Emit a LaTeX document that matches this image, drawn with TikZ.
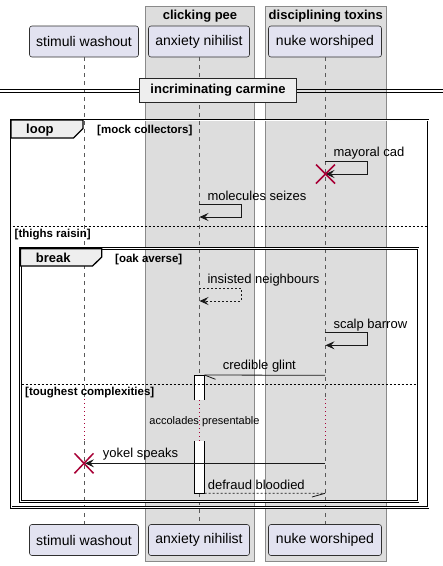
\documentclass[tikz,border=0pt]{standalone}
\usepackage{fontspec}
\setmainfont{Liberation Sans}
\usetikzlibrary{arrows.meta,calc}
\definecolor{grpfill}{HTML}{DDDDDD}
\definecolor{grpline}{HTML}{8A8A8A}
\definecolor{partfill}{HTML}{E2E2F0}
\definecolor{partline}{HTML}{303030}
\definecolor{tabfill}{HTML}{EEEEEE}
\definecolor{xred}{HTML}{A80036}
\newcommand\pxs[1]{\fontsize{#1}{#1}\selectfont}
\begin{document}
\begin{tikzpicture}[x=1pt,y=-1pt,
  part/.style={draw=partline,fill=partfill,line width=0.6pt,rounded corners=2.5pt,
    minimum height=31pt,inner sep=0pt,font=\pxs{14}},
  grp/.style={draw=grpline,fill=grpfill,line width=0.8pt},
  grptitle/.style={font=\bfseries\pxs{13},anchor=base},
  lifeline/.style={draw=black!65,line width=0.7pt,dash pattern=on 4pt off 4pt},
  delayline/.style={draw=xred,line width=0.8pt,dash pattern=on 1pt off 3pt},
  act/.style={draw=none,fill=white,minimum width=10pt,inner sep=0pt},
  actedge/.style={draw=black,line width=0.8pt},
  msg/.style={draw=black!90,line width=0.8pt,-{Stealth[length=9pt,width=8pt,inset=3.5pt]}},
  rmsg/.style={msg,dash pattern=on 2pt off 2pt},
  halfmsg/.style={draw=black!90,line width=0.8pt},
  lbl/.style={font=\pxs{13},anchor=base west,inner sep=0pt},
  frm/.style={draw=black,line width=1.05pt,double=white,double distance=0.7pt},
  tab/.style={draw=black,fill=tabfill,line width=1.3pt},
  tabtxt/.style={font=\bfseries\pxs{13},anchor=base west,inner sep=0pt},
  guard/.style={font=\bfseries\pxs{11.5},anchor=base west,inner sep=0pt},
  sep/.style={draw=black,line width=0.7pt,dash pattern=on 2pt off 2pt},
  killx/.style={draw=xred,line width=1.5pt}
]
\useasboundingbox (0,0) rectangle (443,566);
\fill[white] (0,0) rectangle (443,566);

% groups
\draw[grp] (145.3,6) rectangle (254.7,561);
\draw[grp] (265,6) rectangle (386.7,561);
\node[grptitle] (g1) at (200,19.5) {clicking pee};
\node[grptitle] (g2) at (325.8,19.5) {disciplining toxins};

% participants
\node[part,minimum width=109pt] (sw) at (84,41.5) {stimuli washout};
\node[part,minimum width=101pt] (an) at (199,41.5) {anxiety nihilist};
\node[part,minimum width=113pt] (nw) at (325,41.5) {nuke worshiped};
\node[part,minimum width=109pt] (sw2) at (84,540) {stimuli washout};
\node[part,minimum width=101pt] (an2) at (199,540) {anxiety nihilist};
\node[part,minimum width=113pt] (nw2) at (325,540) {nuke worshiped};

% lifeline key points
\coordinate (swd1) at (84,399);
\coordinate (swd2) at (84,441);
\coordinate (nwd1) at (325,399);
\coordinate (nwd2) at (325,441);
\coordinate (and1) at (199,375);
\coordinate (and2) at (199,400);
\coordinate (and3) at (199,441);
\coordinate (and4) at (199,493);

\draw[lifeline] (sw.south) -- (swd1);
\draw[delayline] (swd1) -- (swd2);
\draw[lifeline] (swd2) -- (sw2.north);
\draw[lifeline] (nw.south) -- (nwd1);
\draw[delayline] (nwd1) -- (nwd2);
\draw[lifeline] (nwd2) -- (nw2.north);
\draw[lifeline] (an.south) -- (and1);
\draw[delayline] (and2) -- (and3);
\draw[lifeline] (and4) -- (an2.north);

% divider
\draw[line width=0.9pt] (0,89.3) -- (443,89.3) (0,92.3) -- (443,92.3);
\node[draw=black!85,fill=tabfill,line width=1.8pt,minimum width=157pt,minimum height=24pt,
  inner sep=0pt,font=\bfseries\pxs{13}] (div) at (218,90.5) {incriminating carmine};

% loop frame
\draw[frm] (11,120) rectangle (428,507.8);
\draw[tab] (11,120) -- (83,120) -- (83,128.5) -- (73.5,138) -- (11,138) -- cycle;
\node[tabtxt] (looplbl) at (26,133.5) {loop};
\node[guard] (g_mock) at (97,133.3) {[mock collectors]};

% mayoral cad (self, destroyed)
\coordinate (m1a) at (325,161);
\coordinate (m1b) at (367,161);
\coordinate (m1c) at (367,174);
\coordinate (m1d) at (325.5,174);
\draw[msg] (m1a) -- (m1b) -- (m1c) -- (m1d);
\node[lbl] (l1) at (333.3,156.5) {mayoral cad};
\draw[killx] ($(m1d)+(-9.5,-9.5)$) -- ($(m1d)+(9.5,9.5)$);
\draw[killx] ($(m1d)+(-9.5,9.5)$) -- ($(m1d)+(9.5,-9.5)$);

% molecules seizes
\coordinate (m2a) at (199,204.3);
\coordinate (m2b) at (241,204.3);
\coordinate (m2c) at (241,217);
\coordinate (m2d) at (199.5,217);
\draw[msg] (m2a) -- (m2b) -- (m2c) -- (m2d);
\node[lbl] (l2) at (207.3,200.5) {molecules seizes};

% separator
\coordinate (s1a) at (12.5,226.3);
\coordinate (s1b) at (426.5,226.3);
\draw[sep] (s1a) -- (s1b);
\node[guard] (g_thighs) at (14.5,237.3) {[thighs raisin]};

% break frame
\draw[frm] (20.5,248.8) rectangle (418,501.2);
\draw[tab] (20.5,248.8) -- (101.8,248.8) -- (101.8,257) -- (92.5,266) -- (20.5,266) -- cycle;
\node[tabtxt] (breaklbl) at (35.7,262.8) {break};
\node[guard] (g_oak) at (115,262) {[oak averse]};

% insisted neighbours (reply, self)
\coordinate (m3a) at (199,288.3);
\coordinate (m3b) at (241,288.3);
\coordinate (m3c) at (241,301);
\coordinate (m3d) at (199.5,301);
\draw[rmsg] (m3a) -- (m3b) -- (m3c) -- (m3d);
\node[lbl] (l3) at (207.3,283.3) {insisted neighbours};

% scalp barrow
\coordinate (m4a) at (325,332.7);
\coordinate (m4b) at (367,332.7);
\coordinate (m4c) at (367,345.3);
\coordinate (m4d) at (325.5,345.3);
\draw[msg] (m4a) -- (m4b) -- (m4c) -- (m4d);
\node[lbl] (l4) at (333.3,328.5) {scalp barrow};

% activation boxes (split by the delay)
\node[act,minimum height=25pt] (act1) at (199.3,387.7) {};
\node[act,minimum height=52pt] (act2) at (199.3,467) {};
\draw[actedge] (act1.south west) -- (act1.north west) -- (act1.north east) -- (act1.south east);
\draw[actedge] (act2.north west) -- (act2.south west) -- (act2.south east) -- (act2.north east);

% credible glint
\coordinate (m5a) at (325,375.3);
\draw[halfmsg] (m5a) -- (act1.north east);
\draw[halfmsg] (act1.north east) -- ++(11,4.3);
\node[lbl] (l5) at (222.7,369.3) {credible glint};

% separator 2
\coordinate (s2a) at (21.5,384.3);
\coordinate (s2b) at (417,384.3);
\draw[sep] (s2a) -- (s2b);
\node[guard] (g_tough) at (25,395) {[toughest complexities]};

% delay text
\node[font=\pxs{11},inner sep=0pt] (delay) at (204.5,421.5) {accolades presentable};

% yokel speaks
\coordinate (m6a) at (325,463.3);
\coordinate (m6b) at (85,463.3);
\draw[msg] (m6a) -- (m6b);
\node[lbl] (l6) at (102.7,457.8) {yokel speaks};
\draw[killx] ($(m6b)+(-10.5,-10)$) -- ($(m6b)+(8.5,10)$);
\draw[killx] ($(m6b)+(-10.5,10)$) -- ($(m6b)+(8.5,-10)$);

% defraud bloodied
\coordinate (m7b) at (325,493.3);
\draw[halfmsg,dash pattern=on 2pt off 2pt] (act2.south east) -- (m7b);
\draw[halfmsg] (m7b) -- ++(-13,3.7);
\node[lbl] (l7) at (207.7,489.5) {defraud bloodied};
\end{tikzpicture}
\end{document}
